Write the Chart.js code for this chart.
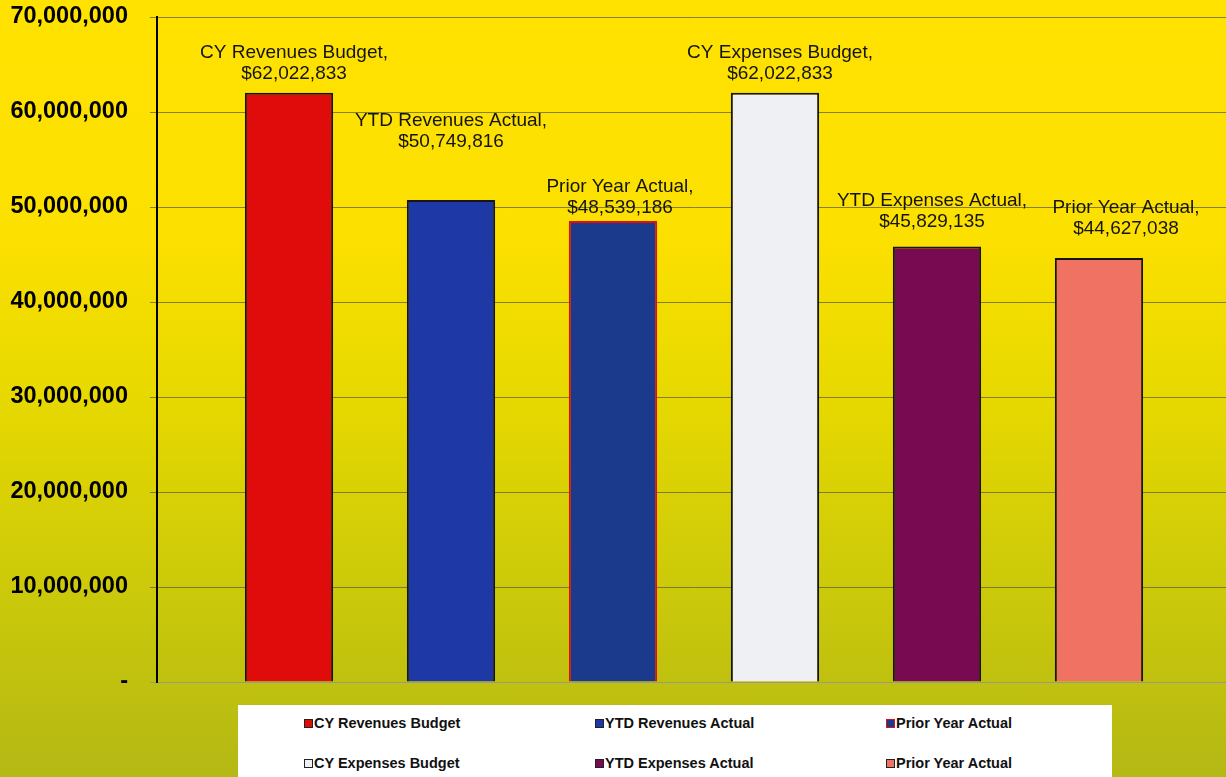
<!DOCTYPE html>
<html>
<head>
<meta charset="utf-8">
<script src="https://cdn.jsdelivr.net/npm/chart.js@4.4.1/dist/chart.umd.min.js"></script>
<style>
  html, body { margin: 0; padding: 0; }
  #wrap {
    position: relative; width: 1226px; height: 777px; overflow: hidden;
    background: linear-gradient(to bottom, #FFE200 0%, #FCE000 30%, #E8D900 50%, #CCCA0A 75%, #B4B814 100%);
    font-family: "Liberation Sans", Arial, sans-serif;
  }
  #c { position: absolute; left: 0; top: 0; }
  #legend {
    position: absolute; left: 238px; top: 705px; width: 874px; height: 80px;
    background: #fff;
  }
  .item {
    position: absolute; display: flex; align-items: center;
    font: bold 14.5px "Liberation Sans", Arial, sans-serif; color: #111; white-space: nowrap;
  }
  .mk { width: 7px; height: 7px; border: 1.5px solid #222; margin-right: 1px; }
</style>
</head>
<body>
<div id="wrap">
  <canvas id="c" width="1231" height="777"></canvas>
  <div id="legend"></div>
</div>
<script>
const seriesNames = ["CY Revenues Budget", "YTD Revenues Actual", "Prior Year Actual", "CY Expenses Budget", "YTD Expenses Actual", "Prior Year Actual"];
const seriesValues = [62022833, 50749816, 48539186, 62022833, 45829135, 44627038];
const seriesFill = ["#E00C0C", "#1E38A6", "#1C3A8C", "#EEF0F4", "#780A52", "#F07262"];
const seriesBorder = ["#151515", "#151515", "#E01010", "#151515", "#151515", "#151515"];
const yTicks = [0, 10000000, 20000000, 30000000, 40000000, 50000000, 60000000, 70000000];

// label placement tweaks (pixels) as in the original manually-placed labels
const labelDx = [5, 0, 7, 5, -5, 27];
const labelGap = [19, 58, 13, 19, 25, 29];

const fmt = v => v.toLocaleString('en-US');

const datasets = seriesNames.map((n, i) => ({
  label: n,
  data: [seriesValues[i]],
  backgroundColor: seriesFill[i],
  borderColor: seriesBorder[i],
  borderWidth: 2,
  categoryPercentage: 0.905,
  barPercentage: 0.545
}));

const labelPlugin = {
  id: 'barLabels',
  afterDatasetsDraw(chart) {
    const ctx = chart.ctx;
    ctx.save();
    ctx.font = '19px "Liberation Sans", Arial, sans-serif';
    ctx.fillStyle = '#141414';
    ctx.textAlign = 'center';
    ctx.textBaseline = 'middle';
    chart.data.datasets.forEach((ds, i) => {
      const el = chart.getDatasetMeta(i).data[0];
      const x = el.x + labelDx[i];
      const y2 = el.y - labelGap[i];
      ctx.fillText(ds.label + ',', x, y2 - 21);
      ctx.fillText('$' + fmt(ds.data[0]), x, y2);
    });
    ctx.restore();
  }
};

new Chart(document.getElementById('c'), {
  type: 'bar',
  data: { labels: [''], datasets },
  options: {
    responsive: false,
    animation: false,
    layout: { padding: { top: 0, bottom: 95, left: 0, right: 0 } },
    plugins: { legend: { display: false }, tooltip: { enabled: false } },
    scales: {
      x: { display: false },
      y: {
        min: 0, max: 70000000,
        afterFit(s) { s.width = 157; s.paddingTop = 17; s.paddingBottom = 0; },
        afterBuildTicks(s) { s.ticks = yTicks.map(v => ({ value: v })); },
        border: { display: true, color: '#000', width: 2 },
        grid: {
          color: ctx => ctx.tick && ctx.tick.value === 0 ? 'rgba(150,150,150,0.9)' : 'rgba(95,95,60,0.75)',
          lineWidth: 1,
          drawTicks: true,
          tickLength: 7
        },
        ticks: {
          padding: 22,
          color: '#000',
          font: { family: '"Liberation Sans", Arial, sans-serif', size: 23.5, weight: 'bold' },
          callback: v => v === 0 ? '-' : fmt(v)
        }
      }
    }
  },
  plugins: [labelPlugin]
});

// HTML legend built from the same arrays
const legendPos = [[66, 10], [357, 10], [648, 10], [66, 50], [357, 50], [648, 50]];
const lg = document.getElementById('legend');
seriesNames.forEach((name, i) => {
  const d = document.createElement('div');
  d.className = 'item';
  d.style.left = legendPos[i][0] + 'px';
  d.style.top = legendPos[i][1] + 'px';
  const m = document.createElement('span');
  m.className = 'mk';
  m.style.background = seriesFill[i];
  m.style.borderColor = i === 2 ? '#E01010' : '#222';
  d.appendChild(m);
  d.appendChild(document.createTextNode(name));
  lg.appendChild(d);
});
</script>
</body>
</html>
